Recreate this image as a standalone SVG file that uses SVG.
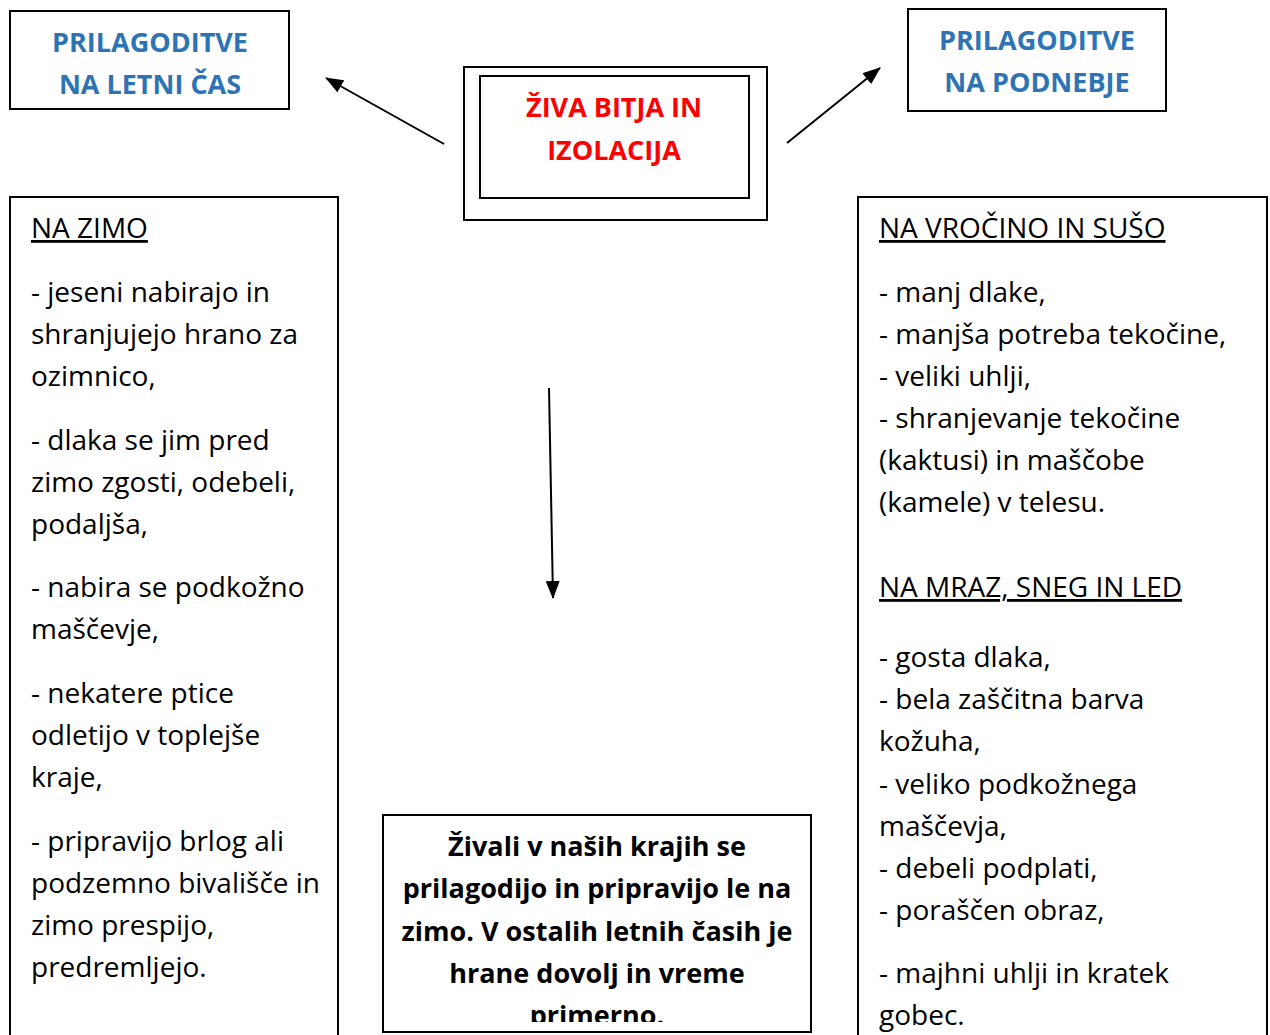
<svg xmlns="http://www.w3.org/2000/svg" width="1270" height="1035" viewBox="0 0 1270 1035">
<style>
.box{fill:#fff;stroke:#000;stroke-width:2}
.t{font-family:"Open Sans","Noto Sans","Liberation Sans",sans-serif;font-size:28px;fill:#000}
.b{font-weight:bold;font-size:27px}
.blue{fill:#2E74B5;font-weight:bold;font-size:27px;text-anchor:middle}
.red{fill:#FF0000;font-weight:bold;font-size:27px;text-anchor:middle}
.u{text-decoration:underline}
.c{text-anchor:middle}
.con{stroke:#000;stroke-width:2;fill:none}
</style>
<defs>
<marker id="ah" viewBox="0 0 18 14" refX="17" refY="7" markerWidth="18" markerHeight="14" markerUnits="userSpaceOnUse" orient="auto">
<path d="M0,0 L18,7 L0,14 Z" fill="#000"/>
</marker>
<clipPath id="clipB"><rect x="383" y="815" width="428" height="207"/></clipPath>
</defs>
<rect width="1270" height="1035" fill="#fff"/>

<g id="connectors">
<line class="con" x1="444" y1="144" x2="326" y2="78" marker-end="url(#ah)"/>
<line class="con" x1="787" y1="143" x2="880" y2="68" marker-end="url(#ah)"/>
<line class="con" x1="549" y1="388" x2="553" y2="598" marker-end="url(#ah)"/>
</g>

<g id="node-letni-cas">
<rect class="box" x="10" y="11" width="279" height="98"/>
<text class="t blue" x="150" y="52">PRILAGODITVE</text>
<text class="t blue" x="150" y="94">NA LETNI ČAS</text>
</g>

<g id="node-podnebje">
<rect class="box" x="908" y="9" width="258" height="102"/>
<text class="t blue" x="1037" y="50">PRILAGODITVE</text>
<text class="t blue" x="1037" y="92">NA PODNEBJE</text>
</g>

<g id="node-center">
<rect class="box" x="464" y="67" width="303" height="153"/>
<rect class="box" x="480" y="76" width="269" height="122"/>
<text class="t red" x="614" y="117">ŽIVA BITJA IN</text>
<text class="t red" x="614" y="160">IZOLACIJA</text>
</g>

<g id="node-zimo">
<rect class="box" x="10" y="197" width="328" height="850"/>
<text class="t u" x="31" y="238">NA ZIMO</text>
<text class="t" x="31" y="302">- jeseni nabirajo in</text>
<text class="t" x="31" y="344">shranjujejo hrano za</text>
<text class="t" x="31" y="386">ozimnico,</text>
<text class="t" x="31" y="450">- dlaka se jim pred</text>
<text class="t" x="31" y="492">zimo zgosti, odebeli,</text>
<text class="t" x="31" y="534">podaljša,</text>
<text class="t" x="31" y="597">- nabira se podkožno</text>
<text class="t" x="31" y="639">maščevje,</text>
<text class="t" x="31" y="703">- nekatere ptice</text>
<text class="t" x="31" y="745">odletijo v toplejše</text>
<text class="t" x="31" y="787">kraje,</text>
<text class="t" x="31" y="851">- pripravijo brlog ali</text>
<text class="t" x="31" y="893">podzemno bivališče in</text>
<text class="t" x="31" y="935">zimo prespijo,</text>
<text class="t" x="31" y="977">predremljejo.</text>
</g>

<g id="node-podnebje-detail">
<rect class="box" x="858" y="197" width="409" height="850"/>
<text class="t u" x="879" y="238">NA VROČINO IN SUŠO</text>
<text class="t" x="879" y="302">- manj dlake,</text>
<text class="t" x="879" y="344">- manjša potreba tekočine,</text>
<text class="t" x="879" y="386">- veliki uhlji,</text>
<text class="t" x="879" y="428">- shranjevanje tekočine</text>
<text class="t" x="879" y="470">(kaktusi) in maščobe</text>
<text class="t" x="879" y="512">(kamele) v telesu.</text>
<text class="t u" x="879" y="597">NA MRAZ, SNEG IN LED</text>
<text class="t" x="879" y="667">- gosta dlaka,</text>
<text class="t" x="879" y="709">- bela zaščitna barva</text>
<text class="t" x="879" y="751">kožuha,</text>
<text class="t" x="879" y="794">- veliko podkožnega</text>
<text class="t" x="879" y="836">maščevja,</text>
<text class="t" x="879" y="878">- debeli podplati,</text>
<text class="t" x="879" y="920">- poraščen obraz,</text>
<text class="t" x="879" y="983">- majhni uhlji in kratek</text>
<text class="t" x="879" y="1025">gobec.</text>
</g>

<g id="node-zivali">
<rect class="box" x="383" y="815" width="428" height="217"/>
<g clip-path="url(#clipB)">
<text class="t b c" x="597" y="856">Živali v naših krajih se</text>
<text class="t b c" x="597" y="898">prilagodijo in pripravijo le na</text>
<text class="t b c" x="597" y="941">zimo. V ostalih letnih časih je</text>
<text class="t b c" x="597" y="983">hrane dovolj in vreme</text>
<text class="t b c" x="597" y="1025">primerno.</text>
</g>
</g>
</svg>
